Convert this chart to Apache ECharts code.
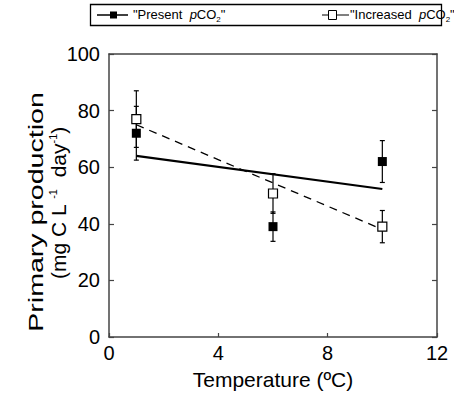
<!DOCTYPE html>
<html><head><meta charset="utf-8">
<script src="https://cdn.jsdelivr.net/npm/echarts@6/dist/echarts.min.js"></script>
<style>html,body{margin:0;padding:0;background:#fff}#c{width:454px;height:395px}</style>
</head><body><div id="c"></div>
<script>
// Data
const temps = [1, 6, 10];
const presentVals = [72, 39, 62];
const presentErr = [9.5, 5.2, 7.4];
const increasedVals = [77, 50.7, 39];
const increasedErr = [10, 7, 5.7];
const presentFit = [[1, 64], [10, 52.3]];
const increasedFit = [[1, 75], [10, 38]];
const xTicks = [0, 4, 8, 12];
const yTicks = [0, 20, 40, 60, 80, 100];

const FONT = 'Liberation Sans, Arial, Helvetica, sans-serif';
const AX = '#444';

const chart = echarts.init(document.getElementById('c'), null, {renderer: 'svg'});

function errData(vals, errs) { return temps.map((t, i) => [t, vals[i], errs[i]]); }
function errRender(params, api) {
  const x = api.value(0), y = api.value(1), e = api.value(2);
  const top = api.coord([x, y + e]), bot = api.coord([x, y - e]);
  const w = 2.5;
  const st = {stroke: '#000', lineWidth: 1.2};
  return {type: 'group', children: [
    {type: 'line', shape: {x1: top[0], y1: top[1], x2: bot[0], y2: bot[1]}, style: st},
    {type: 'line', shape: {x1: top[0]-w, y1: top[1], x2: top[0]+w, y2: top[1]}, style: st},
    {type: 'line', shape: {x1: bot[0]-w, y1: bot[1], x2: bot[0]+w, y2: bot[1]}, style: st}
  ]};
}

const grid = {left: 109, right: 17, top: 54, bottom: 54};
chart.setOption({
  animation: false,
  grid: grid,
  xAxis: [{
    type: 'value', min: xTicks[0], max: xTicks[xTicks.length-1], interval: 4,
    axisLine: {show: true, onZero: false, lineStyle: {color: AX, width: 1.5}},
    axisTick: {show: true, inside: true, length: 4, lineStyle: {color: AX, width: 1.2}},
    axisLabel: {color: '#000', fontSize: 20, fontFamily: FONT, margin: 6},
    splitLine: {show: false},
    name: 'Temperature (ºC)', nameLocation: 'middle', nameGap: 32,
    nameTextStyle: {color: '#000', fontSize: 21, fontFamily: FONT}
  }, {
    type: 'value', position: 'top', min: 0, max: 12, interval: 4,
    axisLine: {show: true, onZero: false, lineStyle: {color: AX, width: 1.5}},
    axisTick: {show: false}, axisLabel: {show: false}, splitLine: {show: false}
  }],
  yAxis: [{
    type: 'value', min: yTicks[0], max: yTicks[yTicks.length-1], interval: 20,
    axisLine: {show: true, onZero: false, lineStyle: {color: AX, width: 1.5}},
    axisTick: {show: true, inside: true, length: 5, lineStyle: {color: AX, width: 1.2}},
    axisLabel: {color: '#000', fontSize: 20, fontFamily: FONT, margin: 9},
    splitLine: {show: false}
  }, {
    type: 'value', position: 'right', min: 0, max: 100, interval: 20,
    axisLine: {show: true, onZero: false, lineStyle: {color: AX, width: 1.5}},
    axisTick: {show: true, inside: true, length: 5, lineStyle: {color: AX, width: 1.2}},
    axisLabel: {show: false}, splitLine: {show: false}
  }],
  graphic: [
    {type: 'text', x: 35, y: 212, rotation: Math.PI/2, scaleX: 1.36,
      style: {text: 'Primary production', font: '21px ' + FONT, fill: '#000', align: 'center', verticalAlign: 'middle'}},
    {type: 'text', x: 58, y: 203, rotation: Math.PI/2,
      style: {text: '(mg C L {s|-1}  day{s|-1})', fontSize: 21, fontFamily: FONT, fill: '#000', align: 'center', verticalAlign: 'middle',
        rich: {s: {fontSize: 11, fontFamily: FONT, fill: '#000', verticalAlign: 'top', padding: [0,0,10,0]}}}},
    // legend box
    {type: 'rect', shape: {x: 90.5, y: 4.5, width: 351, height: 21}, style: {fill: '#fff', stroke: '#000', lineWidth: 1.3}},
    {type: 'line', shape: {x1: 97, y1: 15, x2: 128, y2: 15}, style: {stroke: '#000', lineWidth: 1.5}},
    {type: 'rect', shape: {x: 110, y: 11.5, width: 7, height: 7}, style: {fill: '#000'}},
    {type: 'text', x: 133, y: 14,
      style: {text: '"Present  {i|p}CO{s|2}"', fontSize: 13, fontFamily: FONT, fill: '#000', verticalAlign: 'middle',
        rich: {i: {fontSize: 13, fontStyle: 'italic', fontFamily: FONT, fill: '#000'}, s: {fontSize: 8, fontFamily: FONT, fill: '#000', verticalAlign: 'bottom', padding: [10,0,0,0]}}}},
    {type: 'line', shape: {x1: 322, y1: 15, x2: 349, y2: 15}, style: {stroke: '#000', lineWidth: 1}},
    {type: 'rect', shape: {x: 328.5, y: 10.5, width: 8, height: 9}, style: {fill: '#fff', stroke: '#000', lineWidth: 1}},
    {type: 'text', x: 350, y: 14,
      style: {text: '"Increased  {i|p}CO{s|2}"', fontSize: 13, fontFamily: FONT, fill: '#000', verticalAlign: 'middle',
        rich: {i: {fontSize: 13, fontStyle: 'italic', fontFamily: FONT, fill: '#000'}, s: {fontSize: 8, fontFamily: FONT, fill: '#000', verticalAlign: 'bottom', padding: [10,0,0,0]}}}}
  ],
  series: [
    {type: 'line', name: 'Present fit', data: presentFit, showSymbol: false, symbol: 'none',
      lineStyle: {color: '#000', width: 2.2}, z: 2},
    {type: 'line', name: 'Increased fit', data: increasedFit, showSymbol: false, symbol: 'none',
      lineStyle: {color: '#000', width: 1.3, type: [8, 6]}, z: 2},
    {type: 'custom', name: 'Present err', data: errData(presentVals, presentErr), renderItem: errRender, z: 3},
    {type: 'custom', name: 'Increased err', data: errData(increasedVals, increasedErr), renderItem: errRender, z: 3},
    {type: 'scatter', name: 'Present', data: temps.map((t, i) => [t, presentVals[i]]), symbol: 'rect', symbolSize: 9,
      itemStyle: {color: '#000', opacity: 1}, z: 4},
    {type: 'scatter', name: 'Increased', data: temps.map((t, i) => [t, increasedVals[i]]), symbol: 'rect', symbolSize: 9,
      itemStyle: {color: '#fff', borderColor: '#000', borderWidth: 1.2, opacity: 1}, z: 4}
  ]
});
</script></body></html>
